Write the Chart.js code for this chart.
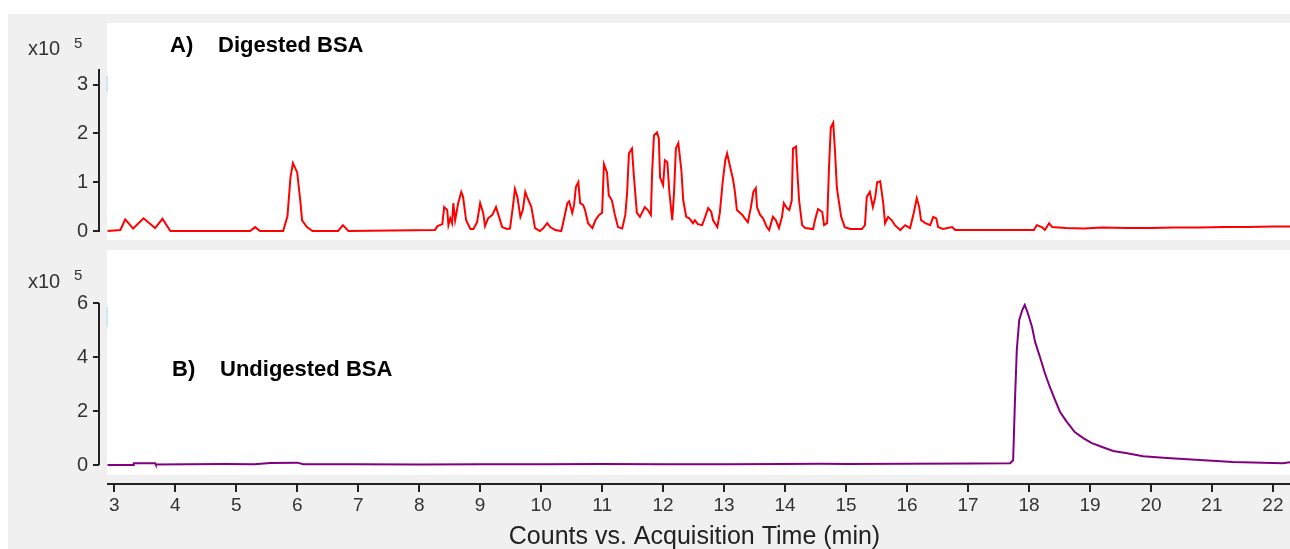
<!DOCTYPE html>
<html>
<head>
<meta charset="utf-8">
<script src="https://cdn.jsdelivr.net/npm/chart.js@4.4.1/dist/chart.umd.min.js"></script>
<style>
  body { margin: 0; background: #fff; }
  #fig { position: relative; width: 1290px; height: 549px; overflow: hidden; }
  #bg { position: absolute; left: 8px; top: 14px; right: 0; bottom: 0; background: #f0f0f0; }
  canvas { position: absolute; left: 0; }
  .lbl { position: absolute; white-space: pre; line-height: 1; color: #000; }
  .mult { font: 20px 'Liberation Sans', Arial, sans-serif; color: #333; }
  .sup { font: 15px 'Liberation Sans', Arial, sans-serif; color: #333; }
  .panel { font: bold 22px 'Liberation Sans', Arial, sans-serif; }
</style>
</head>
<body>
<div id="fig">
  <div id="bg"></div>
  <canvas id="topChart" width="1290" height="248" style="top:0"></canvas>
  <canvas id="botChart" width="1290" height="307" style="top:245px"></canvas>
  <div class="lbl mult" style="left:28px;top:37px">x10</div>
  <div class="lbl sup" style="left:74px;top:34px">5</div>
  <div class="lbl panel" style="left:170px;top:32px">A)</div>
  <div class="lbl panel" style="left:218px;top:32px">Digested BSA</div>
  <div class="lbl mult" style="left:28px;top:270px">x10</div>
  <div class="lbl sup" style="left:74px;top:266px">5</div>
  <div class="lbl panel" style="left:172px;top:356px">B)</div>
  <div class="lbl panel" style="left:220px;top:356px">Undigested BSA</div>
</div>
<script>
// retention time (min) and counts (x10^5)
const timesA = [2.89, 3.10, 3.18, 3.31, 3.48, 3.67, 3.79, 3.92, 5.23, 5.31, 5.39, 5.77, 5.84, 5.89, 5.93, 6.00, 6.05, 6.08, 6.16, 6.25,
  6.67, 6.75, 6.84, 8.26, 8.30, 8.38, 8.41, 8.46, 8.48, 8.51, 8.54, 8.56, 8.59, 8.64, 8.69, 8.72, 8.77, 8.84, 8.89, 8.95,
  9.00, 9.05, 9.08, 9.13, 9.20, 9.26, 9.30, 9.36, 9.44, 9.49, 9.54, 9.57, 9.61, 9.66, 9.70, 9.74, 9.77, 9.84, 9.90, 9.98,
  10.03, 10.10, 10.15, 10.23, 10.33, 10.36, 10.43, 10.46, 10.51, 10.54, 10.57, 10.61, 10.64, 10.69, 10.72, 10.77, 10.84, 10.89, 10.95, 11.00,
  11.03, 11.08, 11.11, 11.16, 11.21, 11.26, 11.33, 11.38, 11.41, 11.44, 11.49, 11.52, 11.57, 11.62, 11.70, 11.75, 11.80, 11.82, 11.85, 11.90,
  11.93, 11.95, 12.00, 12.03, 12.07, 12.10, 12.15, 12.18, 12.21, 12.25, 12.30, 12.33, 12.38, 12.43, 12.49, 12.52, 12.57, 12.64, 12.67, 12.74,
  12.79, 12.82, 12.89, 12.93, 12.98, 13.02, 13.05, 13.10, 13.15, 13.18, 13.21, 13.30, 13.34, 13.39, 13.44, 13.48, 13.52, 13.54, 13.59, 13.64,
  13.70, 13.74, 13.80, 13.85, 13.90, 13.95, 13.98, 14.03, 14.07, 14.11, 14.13, 14.18, 14.20, 14.23, 14.28, 14.33, 14.46, 14.49, 14.54, 14.61,
  14.64, 14.69, 14.72, 14.75, 14.79, 14.82, 14.85, 14.92, 14.98, 15.07, 15.26, 15.31, 15.34, 15.39, 15.44, 15.48, 15.51, 15.56, 15.61, 15.64,
  15.69, 15.75, 15.80, 15.89, 15.97, 16.05, 16.11, 16.16, 16.20, 16.23, 16.30, 16.38, 16.43, 16.48, 16.51, 16.59, 16.74, 16.79, 18.08, 18.13,
  18.21, 18.26, 18.33, 18.38, 18.60, 18.90, 19.20, 19.60, 20.00, 20.40, 20.80, 21.20, 21.60, 22.00, 22.28];
const countsA = [0, 0.02, 0.24, 0.05, 0.26, 0.06, 0.25, 0, 0, 0.08, 0, 0, 0.3, 1.1, 1.39, 1.2, 0.63, 0.22, 0.08, 0,
  0, 0.12, 0, 0.02, 0.1, 0.14, 0.49, 0.43, 0.12, 0.26, 0.16, 0.57, 0.22, 0.57, 0.8, 0.7, 0.22, 0.04, 0.04, 0.18,
  0.57, 0.37, 0.1, 0.26, 0.33, 0.49, 0.33, 0.08, 0.04, 0.05, 0.53, 0.86, 0.7, 0.29, 0.43, 0.8, 0.7, 0.49, 0.06, 0,
  0.05, 0.16, 0.08, 0.02, 0, 0.16, 0.57, 0.61, 0.37, 0.53, 0.9, 1.0, 0.57, 0.53, 0.43, 0.16, 0.06, 0.22, 0.33, 0.37,
  1.37, 1.2, 0.73, 0.63, 0.33, 0.08, 0.05, 0.33, 0.78, 1.59, 1.69, 1.14, 0.37, 0.29, 0.49, 0.43, 0.33, 1.2, 1.96, 2.02,
  1.9, 1.1, 0.94, 1.45, 1.41, 0.84, 0.22, 0.8, 1.69, 1.8, 1.24, 0.63, 0.29, 0.26, 0.16, 0.22, 0.14, 0.12, 0.22, 0.47,
  0.39, 0.22, 0.08, 0.37, 1.04, 1.45, 1.59, 1.31, 1.04, 0.78, 0.43, 0.33, 0.26, 0.18, 0.49, 0.8, 0.88, 0.49, 0.33, 0.26,
  0.08, 0.02, 0.29, 0.22, 0.06, 0.29, 0.57, 0.47, 0.43, 0.63, 1.69, 1.73, 1.24, 0.63, 0.12, 0.06, 0.04, 0.22, 0.45, 0.39,
  0.12, 0.16, 1.29, 2.12, 2.22, 1.61, 0.88, 0.29, 0.08, 0.04, 0.04, 0.12, 0.7, 0.8, 0.49, 0.7, 1.0, 1.02, 0.57, 0.16,
  0.29, 0.22, 0.12, 0.02, 0.12, 0.06, 0.37, 0.67, 0.49, 0.22, 0.16, 0.12, 0.29, 0.26, 0.08, 0.04, 0.08, 0.02, 0.02, 0.12,
  0.08, 0.02, 0.16, 0.08, 0.06, 0.05, 0.07, 0.06, 0.06, 0.07, 0.07, 0.08, 0.08, 0.09, 0.09];

const timesB = [2.89, 3.31, 3.32, 3.67, 3.68, 4.2, 4.8, 5.3, 5.56, 6.0, 6.1, 7.0, 8.0, 9.0, 10.0, 11.0, 12.0, 13.0, 14.0, 14.6,
  15.0, 16.0, 17.08, 17.69, 17.74, 17.77, 17.80, 17.84, 17.89, 17.93, 17.98, 18.05, 18.10, 18.18, 18.26, 18.34, 18.43, 18.51, 18.62, 18.75,
  18.89, 19.03, 19.20, 19.38, 19.61, 19.87, 20.26, 20.80, 21.34, 22.16, 22.28];
const countsB = [0, 0, 0.07, 0.07, 0.02, 0.03, 0.04, 0.03, 0.08, 0.09, 0.03, 0.03, 0.02, 0.03, 0.03, 0.04, 0.03, 0.03, 0.04, 0.05,
  0.04, 0.05, 0.06, 0.07, 0.18, 2.4, 4.26, 5.37, 5.74, 5.93, 5.63, 5.11, 4.56, 4.0, 3.41, 2.9, 2.4, 1.96, 1.6, 1.22,
  1.0, 0.81, 0.67, 0.52, 0.44, 0.33, 0.26, 0.19, 0.11, 0.07, 0.11];

const xTicks = [3, 4, 5, 6, 7, 8, 9, 10, 11, 12, 13, 14, 15, 16, 17, 18, 19, 20, 21, 22];
const yTicksA = [0, 1, 2, 3];
const yTicksB = [0, 2, 4, 6];

const FONT = "'Liberation Sans', Arial, sans-serif";
const AXIS = '#222';

// white plot panel, the small cursor mark, and axis lines that stop short like the original
const panelBg = {
  id: 'panelBg',
  beforeDraw(chart, args, opts) {
    const ctx = chart.ctx;
    ctx.save();
    ctx.fillStyle = '#fff';
    ctx.fillRect(107, opts.top, 1290 - 107, opts.bottom - opts.top);
    ctx.fillStyle = '#cfe8f8';
    ctx.fillRect(106, opts.markTop, 2, opts.markH);
    ctx.restore();
  },
  afterDraw(chart, args, opts) {
    if (!opts.ownAxes) return;
    const ctx = chart.ctx, y = chart.scales.y, area = chart.chartArea;
    ctx.save();
    ctx.strokeStyle = AXIS;
    ctx.lineWidth = 2;
    ctx.beginPath();
    ctx.moveTo(area.left, y.getPixelForValue(y.max));
    ctx.lineTo(area.left, y.getPixelForValue(0));
    ctx.moveTo(107, area.bottom);
    ctx.lineTo(area.right, area.bottom);
    ctx.stroke();
    ctx.restore();
  }
};

function yScale(min, max, ticks, ownBorder) {
  return {
    min: min, max: max,
    afterFit: s => { s.width = 99; },
    afterBuildTicks: s => { s.ticks = ticks.map(v => ({ value: v })); },
    border: { display: !ownBorder, color: AXIS, width: 2 },
    grid: { drawOnChartArea: false, tickLength: 6, color: AXIS, lineWidth: 2 },
    ticks: { font: { size: 20, family: FONT }, color: '#333', padding: 5 }
  };
}

new Chart(document.getElementById('topChart'), {
  type: 'line',
  data: {
    datasets: [{
      data: timesA.map((t, i) => ({ x: t, y: countsA[i] })),
      borderColor: '#ff0000', borderWidth: 2, pointRadius: 0, tension: 0, fill: false, clip: 6
    }]
  },
  options: {
    responsive: false, animation: false,
    layout: { padding: { top: 70, bottom: 17, left: 0, right: 0 } },
    plugins: {
      legend: { display: false }, tooltip: { enabled: false },
      panelBg: { top: 23, bottom: 240, markTop: 76, markH: 16, ownAxes: false }
    },
    scales: {
      x: { type: 'linear', min: 2.75, max: 22.28, display: false },
      y: yScale(0, 3.3, yTicksA, false)
    }
  },
  plugins: [panelBg]
});

new Chart(document.getElementById('botChart'), {
  type: 'line',
  data: {
    datasets: [{
      data: timesB.map((t, i) => ({ x: t, y: countsB[i] })),
      borderColor: '#800080', borderWidth: 2, pointRadius: 0, tension: 0, fill: false
    }]
  },
  options: {
    responsive: false, animation: false,
    layout: { padding: { top: 58, bottom: 0, left: 0, right: 0 } },
    plugins: {
      legend: { display: false }, tooltip: { enabled: false },
      panelBg: { top: 5, bottom: 230, markTop: 62, markH: 20, ownAxes: true }
    },
    scales: {
      x: {
        type: 'linear', min: 2.75, max: 22.28,
        afterFit: s => { s.height = 68; },
        afterBuildTicks: s => { s.ticks = xTicks.map(v => ({ value: v })); },
        border: { display: false },
        grid: { drawOnChartArea: false, tickLength: 8, color: AXIS, lineWidth: 2 },
        ticks: { font: { size: 19, family: FONT }, color: '#333', padding: 2, maxRotation: 0, autoSkip: false },
        title: {
          display: true, text: 'Counts vs. Acquisition Time (min)',
          font: { size: 25, family: FONT }, color: '#222', padding: 0
        }
      },
      y: yScale(-0.7, 6, yTicksB, true)
    }
  },
  plugins: [panelBg]
});
</script>
</body>
</html>
